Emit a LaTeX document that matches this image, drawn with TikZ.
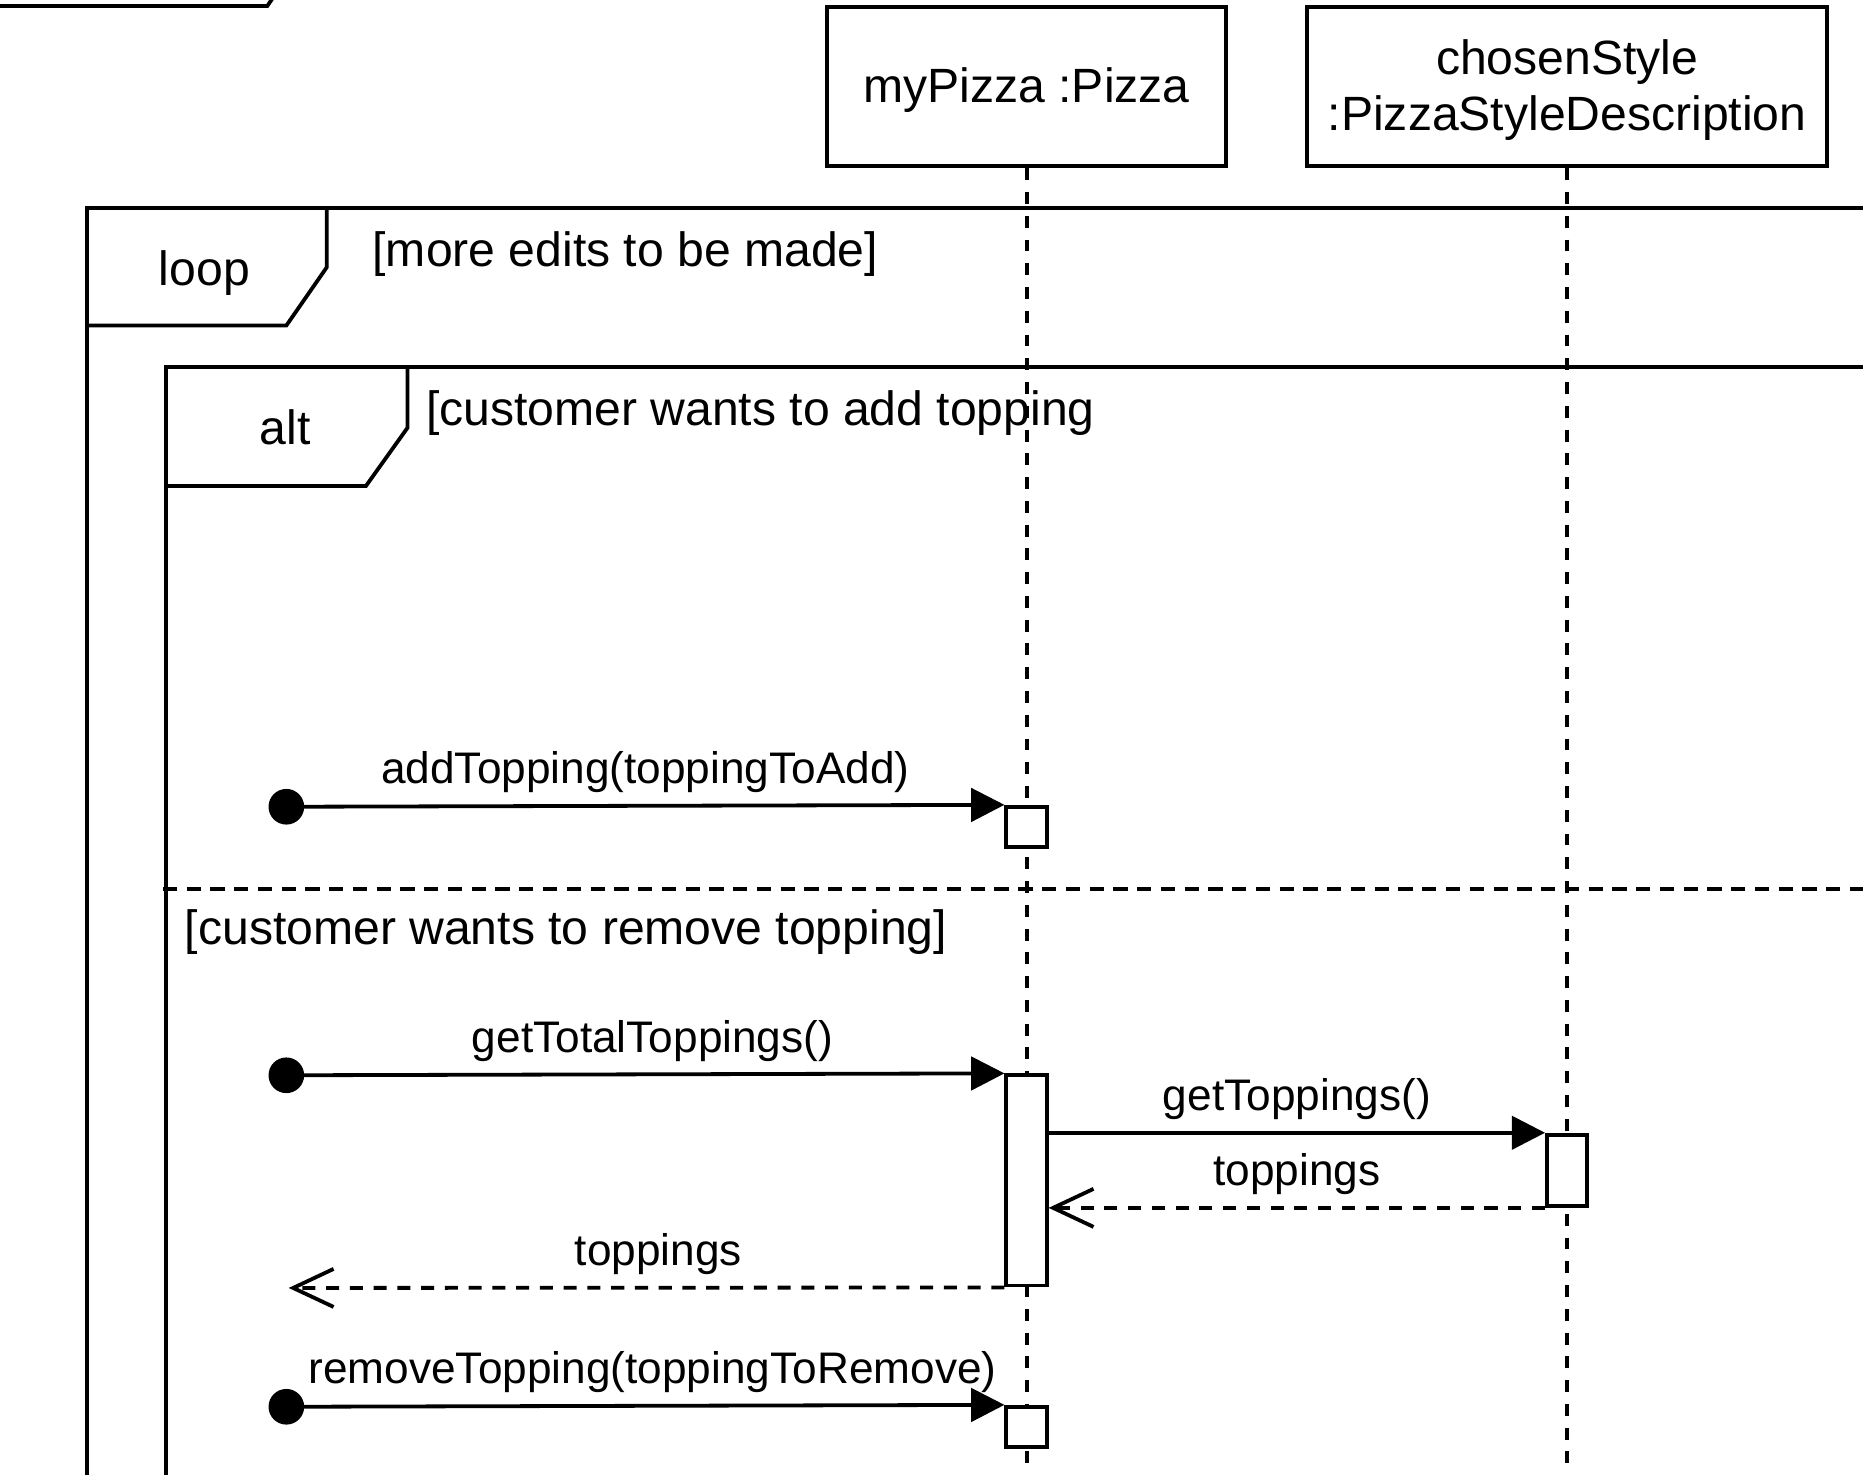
\documentclass[tikz,border=0pt]{standalone}
\usepackage{fontspec}
\setmainfont{Liberation Sans}
\usetikzlibrary{arrows.meta}
\newcommand\lowertext[2]{\raisebox{-#1}[\height][\depth]{#2}}
\tikzset{
  headbox/.style={draw, fill=white, inner sep=0pt, minimum height=134pt, align=center,
    font=\fontsize{40.5}{47}\selectfont},
  actbox/.style={draw, fill=white, inner sep=0pt, minimum width=34pt},
  lifeline/.style={dash pattern=on 10pt off 10pt, line width=3.4pt},
  divline/.style={dash pattern=on 12pt off 8pt},
  msgline/.style={-{Triangle[length=28pt,width=28pt]}},
  retline/.style={dash pattern=on 11pt off 9pt, -{Straight Barb[length=34pt,width=32pt]}},
  msglabel/.style={font=\fontsize{37.2}{44}\selectfont, anchor=base, inner sep=0pt, yshift=18.5pt},
  guardtext/.style={font=\fontsize{40.5}{48}\selectfont, anchor=base west, inner sep=0pt},
  frametext/.style={font=\fontsize{40.5}{48}\selectfont, anchor=base, inner sep=0pt},
  founddot/.style={fill=black}
}
\begin{document}
\begin{tikzpicture}[x=1pt,y=-1pt,line width=3.2pt]
\useasboundingbox (0,0) rectangle (1568,1241);
\clip (0,0) rectangle (1568,1241);

% partial frame tab at top-left
\draw (0,5) -- (225,5) -- (236,-11);

% loop frame
\draw (1600,175) -- (73,175) -- (73,1300);
\draw (73,274) -- (241,274) -- (275,225) -- (275,175);
\node[frametext] (looplbl) at (172,240) {loop};
\node[guardtext] (loopguard) at (312,224) {[more edits to be made]};

% alt frame
\draw (1600,309) -- (140,309) -- (140,1300);
\draw (140,409) -- (308,409) -- (343,360) -- (343,309);
\node[frametext] (altlbl) at (240,374.5) {alt};
\node[guardtext] (guard1) at (357,358) {[customer wants to add topping};
\coordinate (divl) at (137,748);
\coordinate (divr) at (1600,748);
\draw[divline] (divl) -- (divr);
\node[guardtext] (guard2) at (154,795) {[customer wants to remove topping]};

% lifelines
\node[headbox, minimum width=336pt] (pizza) at (864,73) {\lowertext{3pt}{myPizza :Pizza}};
\node[headbox, minimum width=438pt] (style) at (1319,73)
  {\lowertext{3pt}{chosenStyle}\\\lowertext{3pt}{:PizzaStyleDescription}};
\coordinate (pizzaend) at (864,1260);
\coordinate (styleend) at (1319,1260);
\draw[lifeline] (pizza.south) -- (pizzaend);
\draw[lifeline] (style.south) -- (styleend);

% activations
\node[actbox, minimum height=34pt] (a1) at (864,696) {};
\node[actbox, minimum height=177pt] (a2) at (864,993.5) {};
\node[actbox, minimum height=60pt] (a3) at (1319,985) {};
\node[actbox, minimum height=34pt] (a4) at (864,1201) {};

% found messages
\coordinate (s1) at (241,679);
\coordinate (s2) at (241,905);
\coordinate (s3) at (241,1184);
\coordinate (r2) at (243,1084);
\fill[founddot] (s1) circle (15pt);
\fill[founddot] (s2) circle (15pt);
\fill[founddot] (s3) circle (15pt);

\draw[msgline] (s1) -- (a1.north west)
  node[msglabel, midway] {addTopping(toppingToAdd)};
\draw[msgline] (s2) -- (a2.north west)
  node[msglabel, midway, xshift=6pt] {getTotalToppings()};
\draw[msgline] (a2.east |- a3.north) -- (a3.north west)
  node[msglabel, midway] {getToppings()};
\draw[retline] (a3.south west) -- (a2.east |- a3.south)
  node[msglabel, midway] {toppings};
\draw[retline] (a2.south west) -- (r2)
  node[msglabel, midway, xshift=10pt] {toppings};
\draw[msgline] (s3) -- (a4.north west)
  node[msglabel, midway, xshift=6pt] {removeTopping(toppingToRemove)};
\end{tikzpicture}
\end{document}
